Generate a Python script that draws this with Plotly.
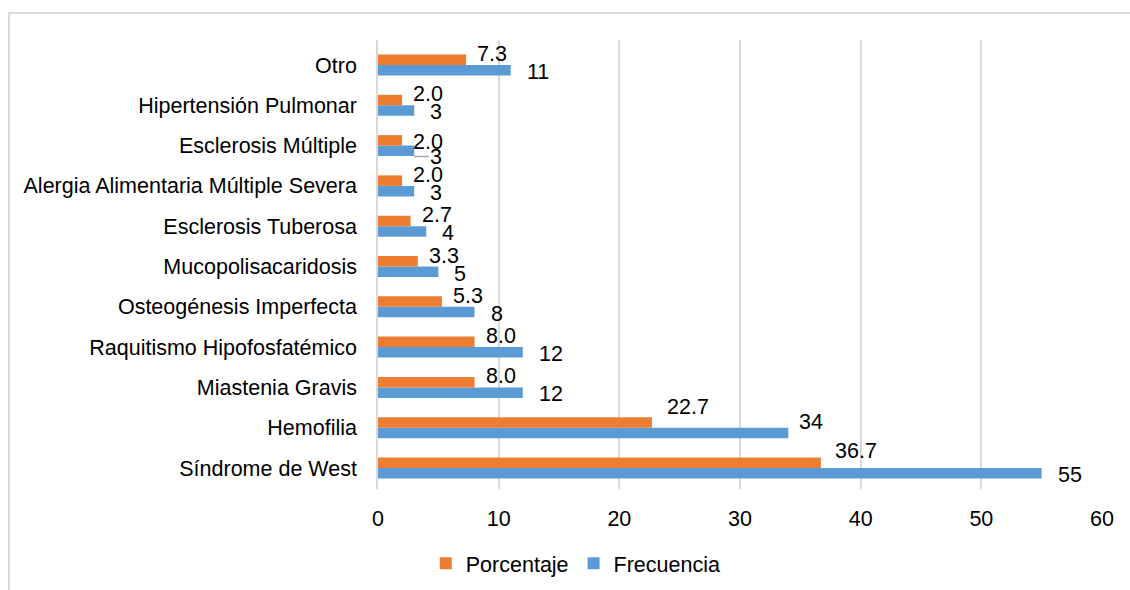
import plotly.graph_objects as go

# Categories listed bottom-to-top on the y axis
categorias = [
    "Síndrome de West",
    "Hemofilia",
    "Miastenia Gravis",
    "Raquitismo Hipofosfatémico",
    "Osteogénesis Imperfecta",
    "Mucopolisacaridosis",
    "Esclerosis Tuberosa",
    "Alergia Alimentaria Múltiple Severa",
    "Esclerosis Múltiple",
    "Hipertensión Pulmonar",
    "Otro",
]
frecuencia = [55, 34, 12, 12, 8, 5, 4, 3, 3, 3, 11]
porcentaje = [36.7, 22.7, 8.0, 8.0, 5.3, 3.3, 2.7, 2.0, 2.0, 2.0, 7.3]
x_ticks = [0, 10, 20, 30, 40, 50, 60]

NARANJA = "#ED7D31"
AZUL = "#5B9BD5"
GRIS = "#D9D9D9"
FUENTE = "Liberation Sans, Arial, sans-serif"
TAM = 21.5

fig = go.Figure()
fig.add_trace(go.Bar(
    y=categorias, x=frecuencia, orientation="h", name="Frecuencia",
    marker=dict(color=AZUL, line=dict(width=0)), legendrank=2,
))
fig.add_trace(go.Bar(
    y=categorias, x=porcentaje, orientation="h", name="Porcentaje",
    marker=dict(color=NARANJA, line=dict(width=0)), legendrank=1,
))

# Pixel offsets of the data labels (label placement tweaks)
desplaz_pct = {"Síndrome de West": (12, 17), "Hemofilia": (13, 21),
               "Esclerosis Múltiple": (9, 4)}
desplaz_frec = {"Hemofilia": (9, 6)}

anotaciones = []
for cat, val in zip(categorias, porcentaje):
    dx, dy = desplaz_pct.get(cat, (9, 11))
    anotaciones.append(dict(
        x=val, y=cat, text=f"{val:.1f}", showarrow=False,
        xanchor="left", yanchor="middle", xshift=dx, yshift=dy,
        font=dict(family=FUENTE, size=TAM, color="#000000"),
    ))
for cat, val in zip(categorias, frecuencia):
    if cat == "Esclerosis Múltiple":
        # label pushed aside with a leader line
        anotaciones.append(dict(
            x=val, y=cat, text=f"{val}", showarrow=True, arrowhead=0,
            arrowwidth=1.5, arrowcolor="#A6A6A6", ax=22, ay=0, standoff=0,
            yshift=-11,
            font=dict(family=FUENTE, size=TAM, color="#000000"),
        ))
        continue
    dx, dy = desplaz_frec.get(cat, (14, -7))
    anotaciones.append(dict(
        x=val, y=cat, text=f"{val}", showarrow=False,
        xanchor="left", yanchor="middle", xshift=dx, yshift=dy,
        font=dict(family=FUENTE, size=TAM, color="#000000"),
    ))

# Outer chart border (left and top edges)
borde = dict(
    type="path", xref="paper", yref="paper",
    path="M -0.5097,-0.3 L -0.5097,1.06 L 1.1,1.06",
    line=dict(color=GRIS, width=2), layer="below",
)

fig.update_layout(
    width=1130, height=590,
    margin=dict(l=378, r=28, t=40, b=101, autoexpand=False),
    paper_bgcolor="white", plot_bgcolor="white",
    barmode="group", bargap=0.48, bargroupgap=0,
    font=dict(family=FUENTE, size=TAM, color="#000000"),
    xaxis=dict(
        range=[0, 60], tickvals=x_ticks, showgrid=True, gridcolor=GRIS,
        gridwidth=1.5, zeroline=False, showline=False, ticks="",
        ticklabelstandoff=14, tickfont=dict(size=TAM), automargin=False,
    ),
    yaxis=dict(
        categoryorder="array", categoryarray=categorias,
        showline=True, linecolor=GRIS, linewidth=1.5, showgrid=False,
        ticks="", ticklabelstandoff=15, tickfont=dict(size=TAM),
        automargin=False,
    ),
    legend=dict(
        orientation="h", x=0.066, xanchor="left", y=-0.12, yanchor="top",
        font=dict(size=TAM), itemclick=False,
    ),
    annotations=anotaciones,
    shapes=[borde],
)

fig.write_html("out.html")
